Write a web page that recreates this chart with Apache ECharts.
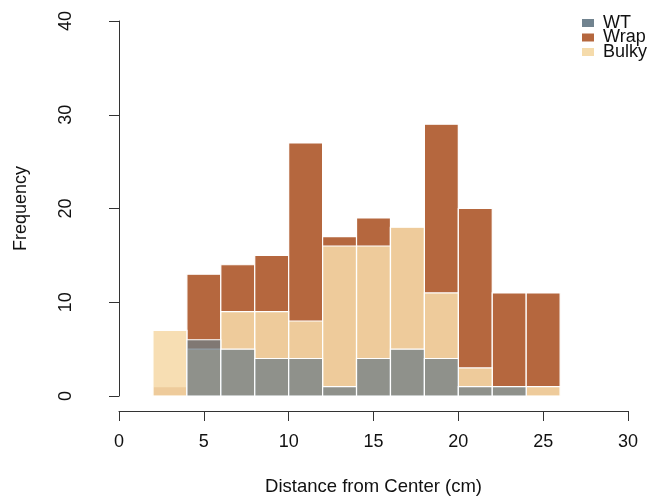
<!DOCTYPE html>
<html>
<head>
<meta charset="utf-8">
<script src="https://cdn.jsdelivr.net/npm/echarts@6/dist/echarts.min.js"></script>
<style>html,body{margin:0;padding:0;background:#fff}#c{width:654px;height:498px}</style>
</head>
<body>
<div id="c"></div>
<script>
// Histogram bins (cm)
const binStarts = [2, 4, 6, 8, 10, 12, 14, 16, 18, 20, 22, 24];
const binWidth = 2;
// Frequencies per bin
const wrapCounts  = [1, 13, 14, 15, 27, 17, 19, 18, 29, 20, 11, 11];
const bulkyCounts = [7, 5, 9, 9, 8, 16, 16, 18, 11, 3, 1, 1];
const wtCounts    = [0, 6, 5, 4, 4, 1, 4, 5, 4, 1, 1, 0];
const seriesNames = ['WT', 'Wrap', 'Bulky'];
const xTicks = [0, 5, 10, 15, 20, 25, 30];
const yTicks = [0, 10, 20, 30, 40];

const fills = {
  Wrap: '#b5673e',
  Bulky: 'rgba(246,218,168,0.88)',
  WT: 'rgba(111,125,134,0.75)'
};
const legendColors = { WT: '#71838f', Wrap: '#b5673e', Bulky: '#f5dbab' };

function toData(counts) {
  return binStarts.map((s, i) => [s, s + binWidth, counts[i]]);
}
function histSeries(name, counts, z) {
  return {
    name: name,
    type: 'custom',
    z: z,
    data: toData(counts),
    encode: { x: [0, 1], y: 2 },
    itemStyle: { color: legendColors[name] },
    renderItem: function (params, api) {
      const v = api.value(2);
      if (!v) return null;
      const p0 = api.coord([api.value(0), v]);
      const p1 = api.coord([api.value(1), 0]);
      return {
        type: 'rect',
        shape: { x: p0[0], y: p0[1], width: p1[0] - p0[0], height: p1[1] - p0[1] },
        style: { fill: fills[name], stroke: '#ffffff', lineWidth: 1.2 }
      };
    }
  };
}

const font = 'Liberation Sans, Arial, Helvetica, sans-serif';
const chart = echarts.init(document.getElementById('c'), null, { renderer: 'canvas' });
chart.setOption({
  animation: false,
  backgroundColor: '#ffffff',
  grid: { left: 119, right: 26, top: 21, bottom: 102, outerBoundsMode: 'none', containLabel: false },
  legend: {
    orient: 'vertical',
    left: 577,
    top: 9,
    itemWidth: 12,
    itemHeight: 8,
    itemGap: -3.5,
    icon: 'rect',
    data: seriesNames.map(n => ({ name: n, itemStyle: { color: legendColors[n] } })),
    textStyle: { fontFamily: font, fontSize: 18, color: '#111', lineHeight: 15, padding: [0, 0, 0, 4] }
  },
  xAxis: {
    type: 'value',
    min: xTicks[0],
    max: xTicks[xTicks.length - 1],
    interval: 5,
    offset: 15,
    name: 'Distance from Center (cm)',
    nameLocation: 'middle',
    nameGap: 66,
    nameTextStyle: { fontFamily: font, fontSize: 18.5, color: '#111' },
    axisLine: { show: true, onZero: false, lineStyle: { color: '#333', width: 1 } },
    axisTick: { show: true, length: 10, lineStyle: { color: '#333' } },
    axisLabel: { fontFamily: font, fontSize: 18, color: '#111', margin: 22 },
    splitLine: { show: false }
  },
  yAxis: {
    type: 'value',
    min: yTicks[0],
    max: yTicks[yTicks.length - 1],
    interval: 10,
    offset: 22,
    name: 'Frequency',
    nameLocation: 'middle',
    nameGap: 67,
    nameTextStyle: { fontFamily: font, fontSize: 18, color: '#111' },
    axisLine: { show: true, lineStyle: { color: '#333', width: 1 } },
    axisTick: { show: true, length: 10, lineStyle: { color: '#333' } },
    axisLabel: { fontFamily: font, fontSize: 18, color: '#111', rotate: 90, margin: 22 },
    splitLine: { show: false }
  },
  series: [
    histSeries('Wrap', wrapCounts, 1),
    histSeries('Bulky', bulkyCounts, 2),
    histSeries('WT', wtCounts, 3)
  ]
});
</script>
</body>
</html>
